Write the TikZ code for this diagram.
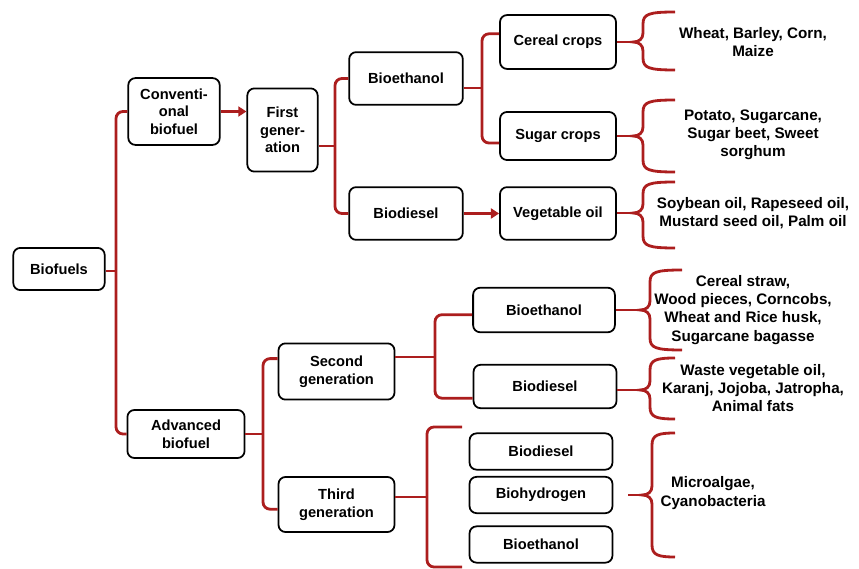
\documentclass[tikz,border=0pt]{standalone}
\usepackage{fontspec}
\setmainfont{Liberation Sans}
\usetikzlibrary{arrows.meta}

\definecolor{linkred}{RGB}{172,30,30}

\tikzset{
    fbox/.style={draw, line width=1.5pt, rounded corners=6pt, align=center,
        inner sep=2pt, font=\bfseries\fontsize{12.5}{15}\selectfont},
    link/.style={draw=linkred, line width=2.4pt, rounded corners=6pt},
    linkarrow/.style={draw=linkred, line width=2.4pt, -{Triangle[length=7pt,width=8.5pt]}},
    croptext/.style={align=center, inner sep=0pt, font=\bfseries\fontsize{13}{15.5}\selectfont}
}

% curly brace: x, top, middle, bottom, end x, name of the tip
\newcommand{\cropbrace}[6]{
    \draw[draw=linkred, line width=2.4pt]
        (#5,#2) .. controls ({#1+6},#2) and (#1,{#2+2}) .. (#1,{#2+12})
        -- (#1,{#3-9}) .. controls (#1,{#3-3}) and ({#1-4},#3) .. ({#1-10},#3)
        .. controls ({#1-4},#3) and (#1,{#3+3}) .. (#1,{#3+9})
        -- (#1,{#4-12}) .. controls (#1,{#4-2}) and ({#1+6},#4) .. (#5,#4);
    \coordinate (#6) at ({#1-10},#3);
}

\begin{document}
\begin{tikzpicture}[x=0.03cm, y=-0.03cm]

            % the frame
            \useasboundingbox (0,0) rectangle (859,569);

            % the boxes
            \node[fbox, minimum width=78pt, minimum height=36pt] (bio) at (59,269) {Biofuels};
            \node[fbox, minimum width=78pt, minimum height=57pt] (conv) at (174,111.5) {Conventi-\\onal\\biofuel};
            \node[fbox, minimum width=100pt, minimum height=41pt] (adv) at (186,434) {Advanced\\biofuel};
            \node[fbox, minimum width=60pt, minimum height=71pt] (first) at (282.5,130) {First\\gener-\\ation};
            \node[fbox, minimum width=97pt, minimum height=45pt] (be1) at (406,78.5) {Bioethanol};
            \node[fbox, minimum width=97pt, minimum height=45pt] (bd1) at (406,213.5) {Biodiesel};
            \node[fbox, minimum width=99pt, minimum height=46pt] (cer) at (558,42) {Cereal crops};
            \node[fbox, minimum width=99pt, minimum height=41pt] (sug) at (558,136) {Sugar crops};
            \node[fbox, minimum width=99pt, minimum height=45pt] (veg) at (558,213.5) {Vegetable oil};
            \node[fbox, minimum width=99pt, minimum height=48pt] (sec) at (336.5,371.5) {Second\\generation};
            \node[fbox, minimum width=99pt, minimum height=47pt] (thi) at (336.5,504.5) {Third\\generation};
            \node[fbox, minimum width=121pt, minimum height=38pt] (be2) at (544,310) {Bioethanol};
            \node[fbox, minimum width=122pt, minimum height=37pt] (bd2) at (545,386.5) {Biodiesel};
            \foreach \name/\y/\lbl in {bd3/451.5/Biodiesel, bh3/495/Biohydrogen, be3/544.5/Bioethanol} {
                \node[fbox, minimum width=122pt, minimum height=31pt] (\name) at (541,\y) {\lbl};
            }

            % the forks
            \coordinate (j0) at (116,271);
            \draw[link] (bio.east |- j0) -- (j0);
            \draw[link] (conv.west) -| (j0) |- (adv.west);

            \draw[linkarrow] (conv.east) -- (conv.east -| first.west);

            \coordinate (j1) at (335,146);
            \draw[link] (first.east |- j1) -- (j1);
            \draw[link] (be1.west) -| (j1) |- (bd1.west);

            \coordinate (j2) at (482,88);
            \draw[link] (be1.east |- j2) -- (j2);
            \draw[link] ([yshift=7pt]cer.west) -| (j2) |- ([yshift=-6pt]sug.west);

            \draw[linkarrow] (bd1) -- (veg);

            \coordinate (j3) at (263,434);
            \draw[link] (adv.east |- j3) -- (j3);
            \draw[link] ([yshift=11pt]sec.west) -| (j3) |- ([yshift=-4pt]thi.west);

            \coordinate (j4) at (435,357);
            \draw[link] (sec.east |- j4) -- (j4);
            \draw[link] ([yshift=-4pt]be2.west) -| (j4) |- ([yshift=-10pt]bd2.west);

            \coordinate (j5) at (427,497);
            \coordinate (t5a) at (462,427);
            \coordinate (t5b) at (462,567);
            \draw[link] (thi.east |- j5) -- (j5);
            \draw[link] (t5a) -| (j5) |- (t5b);

            % the braces
            \cropbrace{643}{12}{42}{70}{675}{cerb}
            \cropbrace{643}{100}{136}{172}{675}{sugb}
            \cropbrace{643}{182}{213}{248}{675}{vegb}
            \cropbrace{650}{270}{310}{350}{682}{be2b}
            \cropbrace{650}{358}{390}{419}{675}{bd2b}
            \cropbrace{652}{433}{495}{557}{675}{algb}
            \draw[link] (cer.east |- cerb) -- (cerb);
            \draw[link] (sug.east |- sugb) -- (sugb);
            \draw[link] (veg.east |- vegb) -- (vegb);
            \draw[link] (be2.east |- be2b) -- (be2b);
            \draw[link] (bd2.east |- bd2b) -- (bd2b);
            \coordinate (algs) at (628,495);
            \draw[link] (algs) -- (algb);

            % the feedstocks
            \node[croptext] (t1) at (753,42) {Wheat, Barley, Corn,\\Maize};
            \node[croptext] (t2) at (753,135) {Potato, Sugarcane,\\Sugar beet, Sweet\\sorghum};
            \node[croptext] (t3) at (753,213) {Soybean oil, Rapeseed oil,\\Mustard seed oil, Palm oil};
            \node[croptext] (t4) at (743,310) {Cereal straw,\\Wood pieces, Corncobs,\\Wheat and Rice husk,\\Sugarcane bagasse};
            \node[croptext] (t5) at (753,388) {Waste vegetable oil,\\Karanj, Jojoba, Jatropha,\\Animal fats};
            \node[croptext] (t6) at (713,493) {Microalgae,\\Cyanobacteria};
        \end{tikzpicture}
\end{document}
